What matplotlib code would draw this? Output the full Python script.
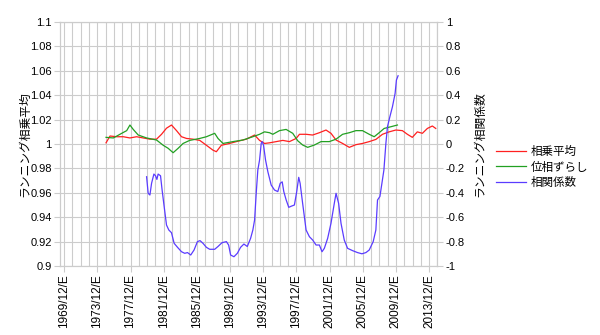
import matplotlib
matplotlib.use("Agg")
import matplotlib.pyplot as plt
import numpy as np

plt.rcParams['font.family'] = ['Liberation Sans', 'Noto Sans CJK JP', 'DejaVu Sans']

# x values are decimal years (1970.0 == 1969/12/E)
red_x = [1975.05, 1975.53, 1976.33, 1977.13, 1977.93, 1978.74, 1979.53, 1980.34, 1981.14, 1981.74,
         1982.34, 1982.94, 1983.55, 1984.15, 1984.75, 1985.54, 1986.35, 1987.15, 1987.94, 1988.35,
         1988.95, 1989.95, 1990.76, 1991.96, 1992.96, 1993.56, 1994.16, 1994.76, 1995.57, 1996.36,
         1997.16, 1997.97, 1998.37, 1999.17, 1999.96, 2000.77, 2001.57, 2002.17, 2002.78, 2003.57,
         2004.38, 2005.18, 2005.97, 2006.78, 2007.58, 2008.38, 2009.18, 2009.99, 2010.78, 2011.38,
         2011.98, 2012.58, 2013.19, 2013.79, 2014.39, 2014.80]
red_y = [1.001, 1.0066, 1.006, 1.006, 1.005, 1.006, 1.005, 1.004, 1.004, 1.008,
         1.013, 1.0156, 1.011, 1.006, 1.0046, 1.004, 1.003, 0.999, 0.995, 0.9937,
         0.999, 1.0005, 1.002, 1.004, 1.0074, 1.003, 1.0005, 1.001, 1.002, 1.003,
         1.002, 1.0046, 1.008, 1.008, 1.0074, 1.0093, 1.0115, 1.0088, 1.0033, 1.0005,
         0.9973, 0.9995, 1.0005, 1.002, 1.0038, 1.008, 1.010, 1.0115, 1.011, 1.008,
         1.0055, 1.010, 1.0088, 1.0128, 1.0148, 1.0128]

green_x = [1975.05, 1975.93, 1976.94, 1977.54, 1977.93, 1978.33, 1978.93, 1979.94, 1981.14, 1981.94,
           1982.54, 1983.14, 1983.74, 1984.34, 1985.14, 1986.35, 1987.15, 1988.15, 1988.55, 1989.15,
           1990.35, 1991.55, 1992.75, 1993.56, 1994.16, 1994.76, 1995.16, 1995.96, 1996.76, 1997.56,
           1998.16, 1998.76, 1999.36, 2000.17, 2000.97, 2001.97, 2002.78, 2003.57, 2004.38, 2005.18,
           2005.97, 2006.78, 2007.38, 2007.98, 2008.58, 2009.39, 2010.18]
green_y = [1.0055, 1.005, 1.0088, 1.011, 1.0156, 1.012, 1.0074, 1.005, 1.0033, 0.999,
           0.9965, 0.9929, 0.9965, 1.0005, 1.003, 1.0046, 1.006, 1.0088, 1.0046, 1.0005,
           1.002, 1.0033, 1.006, 1.008, 1.010, 1.0093, 1.008, 1.011, 1.012, 1.0088,
           1.0027, 0.9992, 0.9973, 0.9992, 1.002, 1.002, 1.004, 1.008, 1.0093, 1.011,
           1.011, 1.008, 1.006, 1.0093, 1.0128, 1.0142, 1.0156]

blue_x = [1979.94, 1980.13, 1980.34, 1980.54, 1980.82, 1981.02, 1981.18, 1981.33, 1981.62, 1981.81,
          1982.06, 1982.34, 1982.62, 1982.94, 1983.26, 1983.67, 1984.15, 1984.54, 1984.87, 1985.26,
          1985.66, 1986.07, 1986.38, 1986.74, 1987.15, 1987.55, 1988.15, 1988.55, 1989.03, 1989.56,
          1989.83, 1990.07, 1990.47, 1990.88, 1991.27, 1991.67, 1992.08, 1992.48, 1992.75, 1992.96,
          1993.16, 1993.35, 1993.56, 1993.76, 1993.88, 1994.04, 1994.28, 1994.56, 1994.96, 1995.36,
          1995.76, 1996.05, 1996.29, 1996.48, 1996.77, 1997.08, 1997.37, 1997.76, 1998.04, 1998.28,
          1998.45, 1998.76, 1999.17, 1999.57, 1999.96, 2000.37, 2000.77, 2001.09, 2001.37, 2001.77,
          2002.17, 2002.57, 2002.78, 2003.09, 2003.38, 2003.77, 2004.17, 2004.77, 2005.37, 2005.90,
          2006.38, 2006.78, 2007.26, 2007.58, 2007.78, 2008.07, 2008.31, 2008.55, 2008.79, 2008.98,
          2009.27, 2009.58, 2009.90, 2010.06, 2010.26]
blue_y = [-0.268, -0.404, -0.418, -0.322, -0.246, -0.26, -0.29, -0.246, -0.26, -0.377,
          -0.514, -0.664, -0.705, -0.727, -0.814, -0.847, -0.883, -0.896, -0.89, -0.91,
          -0.869, -0.80, -0.792, -0.814, -0.847, -0.863, -0.863, -0.84, -0.809, -0.80,
          -0.828, -0.91, -0.924, -0.896, -0.847, -0.82, -0.84, -0.773, -0.705, -0.623,
          -0.40, -0.213, -0.131, 0.006, 0.02, -0.01, -0.131, -0.227, -0.336, -0.377,
          -0.39, -0.322, -0.31, -0.39, -0.459, -0.519, -0.51, -0.50, -0.39, -0.273,
          -0.322, -0.49, -0.705, -0.76, -0.787, -0.828, -0.828, -0.883, -0.855, -0.773,
          -0.65, -0.486, -0.404, -0.486, -0.65, -0.787, -0.855, -0.874, -0.89, -0.90,
          -0.89, -0.869, -0.80, -0.705, -0.459, -0.43, -0.322, -0.213, 0.006, 0.142,
          0.224, 0.306, 0.415, 0.525, 0.56]

tick_years = list(range(1969, 2014, 4))
tick_labels = [f"{y}/12/E" for y in tick_years]
left_ticks = [0.9, 0.92, 0.94, 0.96, 0.98, 1.0, 1.02, 1.04, 1.06, 1.08, 1.1]
left_labels = ['0.9', '0.92', '0.94', '0.96', '0.98', '1', '1.02', '1.04', '1.06', '1.08', '1.1']
right_ticks = [-1, -0.8, -0.6, -0.4, -0.2, 0, 0.2, 0.4, 0.6, 0.8, 1]
right_labels = ['-1', '-0.8', '-0.6', '-0.4', '-0.2', '0', '0.2', '0.4', '0.6', '0.8', '1']

grid_c = '#cccccc'
fig = plt.figure(figsize=(6, 3.35), dpi=100)
ax = fig.add_axes([0.1, 0.206, 0.629, 0.728])
ax2 = ax.twinx()

l1, = ax.plot(red_x, red_y, color='#ff2020', lw=0.9, label='相乗平均')
l2, = ax.plot(green_x, green_y, color='#22a022', lw=0.9, label='位相ずらし')
l3, = ax2.plot(blue_x, blue_y, color='#5a3cff', lw=0.9, label='相関係数')

ax.set_xlim(1969.5, 2015.0)
ax.set_ylim(0.9, 1.1)
ax2.set_ylim(-1, 1)

ax.set_xticks([y + 1 for y in tick_years])
ax.set_xticklabels(tick_labels, rotation=90, fontsize=8.5)
ax.set_xticks(np.arange(1970, 2016), minor=True)
ax.set_yticks(left_ticks)
ax.set_yticklabels(left_labels, fontsize=8)
ax2.set_yticks(right_ticks)
ax2.set_yticklabels(right_labels, fontsize=8)

ax.grid(True, which='both', color=grid_c, lw=0.8)
ax.set_axisbelow(True)
ax.tick_params(which='both', color=grid_c, length=4, pad=2)
ax.tick_params(axis='x', which='minor', length=0)
ax2.tick_params(color=grid_c, length=4, pad=2)
for a in (ax, ax2):
    for s in a.spines.values():
        s.set_color(grid_c)
        s.set_linewidth(0.8)

ax.set_ylabel('ランニング相乗平均', fontsize=8.5)
ax.yaxis.set_label_coords(-0.077, 0.5)
ax2.set_ylabel('ランニング相関係数', fontsize=8.5)
ax2.yaxis.set_label_coords(1.098, 0.5)

fig.legend(handles=[l1, l2, l3], loc='center left', bbox_to_anchor=(0.81, 0.5),
           frameon=False, fontsize=8.3, handlelength=2.6, handletextpad=0.35,
           labelspacing=0.3)

fig.savefig('out.png', dpi=100)
